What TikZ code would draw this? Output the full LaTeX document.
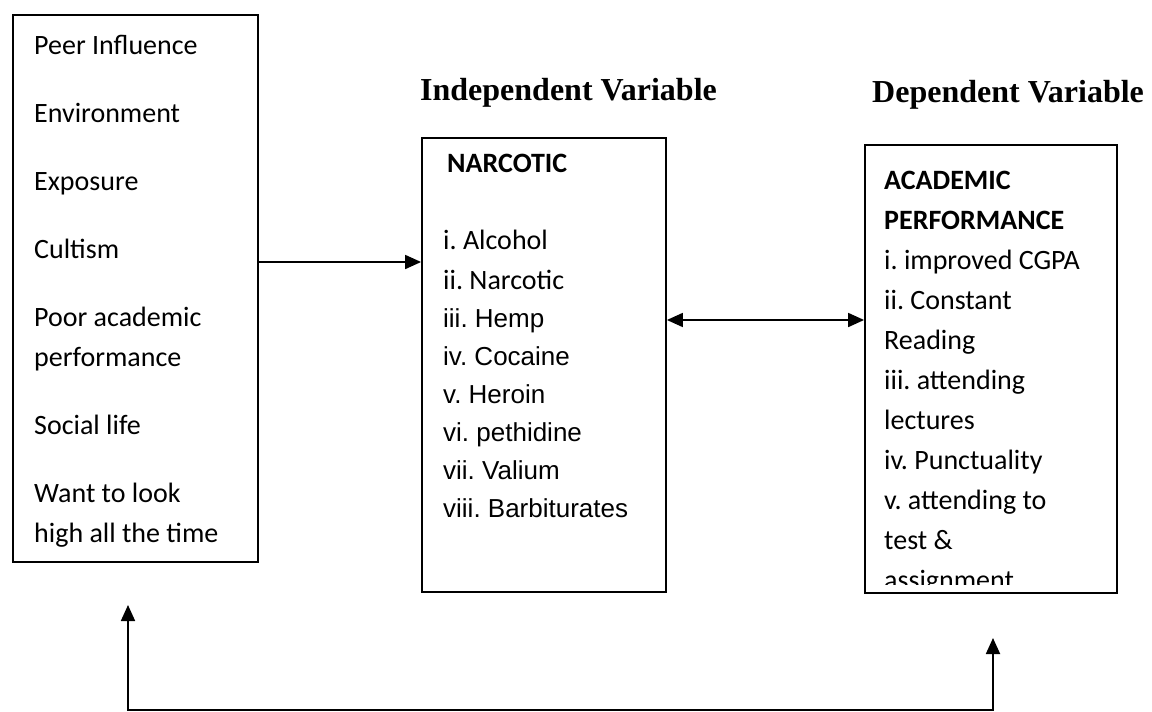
\documentclass[tikz,border=0pt]{standalone}
\usepackage{fontspec}
\setmainfont{Carlito}
\newfontfamily\arialfont{Liberation Sans}
\newfontfamily\timesfont{Liberation Serif}
\usetikzlibrary{arrows.meta}

\begin{document}
\frenchspacing
\begin{tikzpicture}[x=1pt,y=-1pt,
    box/.style={draw,line width=1.8pt,inner sep=0pt},
    item/.style={anchor=base west,inner sep=0pt,font=\fontsize{28}{34}\selectfont},
    drug/.style={anchor=base west,inner sep=0pt,font=\arialfont\fontsize{26}{30}\selectfont},
    head/.style={anchor=base west,inner sep=0pt,font=\timesfont\bfseries\fontsize{32}{38}\selectfont},
    oneway/.style={line width=1.8pt,-{Triangle[length=16pt,width=14pt]}},
    twoway/.style={line width=1.8pt,{Triangle[length=16pt,width=14pt]}-{Triangle[length=16pt,width=14pt]}}]
  \fill[white] (0,0) rectangle (1152,712);

  % the three boxes
  \node[box,minimum width=245pt,minimum height=547pt] (causes) at (135.5,288.5) {};
  \node[box,minimum width=244pt,minimum height=454pt] (narc) at (544,365) {};
  \node[box,minimum width=252pt,minimum height=448pt] (perf) at (991,369) {};

  \node[head] (indep) at (420,100) {Independent Variable};
  \node[head] (dep) at (872,102) {Dependent Variable};

  \foreach \y/\t [count=\i] in {54/Peer Influence,122/Environment,190/Exposure,258/Cultism,
      326/Poor academic,366/performance,434/Social life,502/Want to look,542/high all the time}
    \node[item] (cause\i) at (34,\y) {\t};

  \node[item,font=\bfseries\fontsize{28}{34}\selectfont] (narctitle) at (447,172) {NARCOTIC};
  \node[item] (drug1) at (443,249) {i. Alcohol};
  \node[item] (drug2) at (443,289) {ii. Narcotic};
  \foreach \y/\t [count=\i from 3] in {327/iii. Hemp,365/iv. Cocaine,403/v. Heroin,
      441/vi. pethidine,479/vii. Valium,517/viii. Barbiturates}
    \node[drug] (drug\i) at (443,\y) {\t};

  \begin{scope}
    \clip (866,146) rectangle (1116,584);
    \node[item,font=\bfseries\fontsize{28}{34}\selectfont] (perftitle1) at (884,189) {ACADEMIC};
    \node[item,font=\bfseries\fontsize{28}{34}\selectfont] (perftitle2) at (884,229) {PERFORMANCE};
    \foreach \y/\t [count=\i] in {269/i. improved CGPA,309/ii. Constant,349/Reading,
        389/iii. attending,429/lectures,469/iv. Punctuality,509/v. attending to,
        549/test \&,589/assignment}
      \node[item] (aim\i) at (884,\y) {\t};
  \end{scope}

  % connectors
  \draw[oneway] (causes.east |- 0,262) -- (narc.west |- 0,262);
  \draw[twoway] (narc.east |- 0,320) -- (perf.west |- 0,320);
  \coordinate (upL) at (128,605);
  \coordinate (upR) at (993,638);
  \draw[twoway] (upL) -- (upL |- 0,710) -- (upR |- 0,710) -- (upR);
\end{tikzpicture}
\end{document}
